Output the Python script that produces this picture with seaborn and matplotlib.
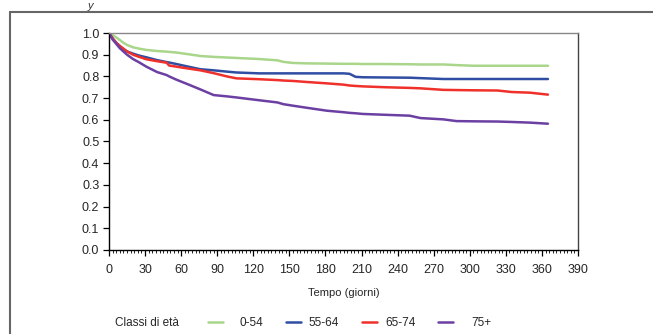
import numpy as np
import matplotlib
matplotlib.use('Agg')
import matplotlib.pyplot as plt
import seaborn as sns
import pandas as pd
from matplotlib.lines import Line2D
from matplotlib.ticker import MultipleLocator, FormatStrFormatter

# giorni e sopravvivenza stimata per classe di età
DAYS = [0, 3, 6, 9, 12, 15, 20, 25, 31, 40, 48, 50, 56, 65, 76, 87, 98, 106, 125, 140, 145, 153,
        165, 181, 195, 200, 205, 211, 230, 250, 259, 278, 289, 303, 323, 335, 350, 365]
S_0_54 = [1.0, 0.99, 0.98, 0.968, 0.955, 0.945, 0.934, 0.928, 0.922, 0.917, 0.914, 0.913, 0.91, 0.903,
          0.894, 0.89, 0.887, 0.885, 0.88, 0.874, 0.867, 0.862, 0.86, 0.859, 0.858, 0.858, 0.858, 0.857,
          0.857, 0.856, 0.855, 0.855, 0.852, 0.849, 0.849, 0.849, 0.849, 0.849]
S_55_64 = [1.0, 0.975, 0.955, 0.94, 0.925, 0.915, 0.905, 0.896, 0.888, 0.875, 0.866, 0.864, 0.857, 0.846,
           0.833, 0.828, 0.822, 0.818, 0.814, 0.814, 0.814, 0.814, 0.814, 0.814, 0.814, 0.812, 0.798, 0.796,
           0.795, 0.794, 0.792, 0.788, 0.788, 0.788, 0.788, 0.788, 0.788, 0.788]
S_65_74 = [1.0, 0.975, 0.955, 0.94, 0.928, 0.915, 0.9, 0.89, 0.879, 0.87, 0.863, 0.85, 0.845, 0.837,
           0.828, 0.815, 0.8, 0.791, 0.787, 0.783, 0.781, 0.779, 0.774, 0.768, 0.762, 0.758, 0.756, 0.754,
           0.75, 0.747, 0.745, 0.738, 0.737, 0.736, 0.735, 0.728, 0.725, 0.716]
S_75 = [1.0, 0.97, 0.95, 0.93, 0.915, 0.9, 0.88, 0.865, 0.845, 0.82, 0.806, 0.8, 0.785, 0.765,
        0.74, 0.714, 0.708, 0.703, 0.69, 0.68, 0.672, 0.665, 0.655, 0.642, 0.635, 0.632, 0.63, 0.627,
        0.623, 0.619, 0.608, 0.602, 0.594, 0.593, 0.592, 0.59, 0.587, 0.582]
GROUPS = ['0-54', '55-64', '65-74', '75+']
COLORS = ['#a9d68a', '#2f4ea3', '#f0302a', '#6c40a3']

rows = []
for g, vals in zip(GROUPS, [S_0_54, S_55_64, S_65_74, S_75]):
    for d, v in zip(DAYS, vals):
        rows.append({'Tempo': d, 'S': v, 'Classe': g})
data = pd.DataFrame(rows)

sns.set_style('white')
plt.rcParams['font.family'] = ['Liberation Sans', 'DejaVu Sans']

W, H = 653, 334
fig = plt.figure(figsize=(W / 100, H / 100), dpi=100)
ax = fig.add_axes([109 / W, 1 - 250 / H, 469 / W, 217 / H])

sns.lineplot(data=data, x='Tempo', y='S', hue='Classe', palette=COLORS, hue_order=GROUPS,
             ax=ax, linewidth=1.8, legend=False)

ax.set_xlim(0, 390)
ax.set_ylim(0, 1.0)
ax.xaxis.set_major_locator(MultipleLocator(30))
ax.xaxis.set_minor_locator(MultipleLocator(3))
ax.yaxis.set_major_locator(MultipleLocator(0.1))
ax.yaxis.set_major_formatter(FormatStrFormatter('%.1f'))
ax.tick_params(axis='both', which='major', direction='out', length=4, width=0.9,
               color='black', labelsize=9, pad=3, bottom=True, left=True)
ax.tick_params(axis='x', which='major', pad=6)
ax.tick_params(axis='x', which='minor', direction='out', length=2, width=0.6, color='black', bottom=True)
for s in ['left', 'bottom']:
    ax.spines[s].set_color('black')
    ax.spines[s].set_linewidth(1.0)
ax.spines['top'].set_color('#888888')
ax.spines['top'].set_linewidth(1.0)
ax.spines['right'].set_color('#444444')
ax.spines['right'].set_linewidth(1.0)
ax.set_xlabel('Tempo (giorni)', fontsize=8, labelpad=9)
ax.set_ylabel('')

# cornice esterna (solo lati sinistro e superiore visibili)
fig.add_artist(Line2D([10 / W, 10 / W], [0, 1 - 12 / H], color='#666666', lw=1.5))
fig.add_artist(Line2D([10 / W, 1.01], [1 - 12 / H, 1 - 12 / H], color='#666666', lw=1.5))
fig.text(88 / W, 1 - 1 / H, 'y', fontsize=8, style='italic', va='top', color='#333333')

# legenda disegnata a mano per riprodurre la spaziatura
ly = 1 - 323 / H
fig.text(115 / W, ly, 'Classi di età', fontsize=8.5, va='center')
for g, c, x0, xt in zip(GROUPS, COLORS, [208, 286, 362, 438], [239, 308, 385, 471]):
    fig.add_artist(Line2D([x0 / W, (x0 + 15) / W], [ly + 1 / H, ly + 1 / H], color=c, lw=1.8))
    fig.text(xt / W, ly, g, fontsize=8.5, va='center')

fig.savefig('out.png', dpi=100)
